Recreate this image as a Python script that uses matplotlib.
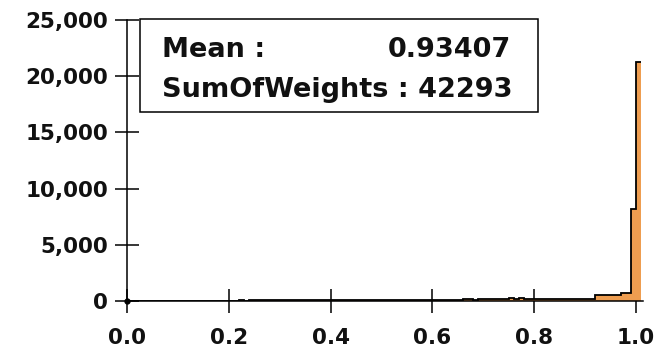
import matplotlib
matplotlib.use("Agg")
import matplotlib.pyplot as plt
from matplotlib.ticker import FuncFormatter
from matplotlib.patches import Rectangle
import numpy as np

# histogram: 101 bins of width 0.01 from 0.0 to 1.01
bin_edges = np.round(np.arange(0, 1.0101, 0.01), 2)
counts = (
    [0] * 21
    + [30, 60, 40]
    + [85, 90, 80, 95, 100, 90, 85, 95, 100, 90, 95, 100, 90, 85, 95,
       100, 105, 95, 90, 100, 95, 90, 100, 105, 95, 100, 90, 95, 100, 105,
       95, 100, 110, 100, 105, 95, 110]
    + [120, 115, 125, 130, 120, 135, 140, 130, 135, 150, 145, 190, 220, 180,
       230, 200, 240, 210, 160, 170, 165, 175, 180, 170, 185, 190, 180, 195,
       200, 190, 210]
    + [520, 530, 540, 525, 535]
    + [730, 750]
    + [8200, 21300]
)
mean_text = "0.93407"
sum_text = "42293"
xticks = [0.0, 0.2, 0.4, 0.6, 0.8, 1.0]
yticks = [0, 5000, 10000, 15000, 20000, 25000]

W, H = 667, 351
fig = plt.figure(figsize=(W / 100, H / 100), dpi=100)
ax = fig.add_axes([127 / W, 1 - 301 / H, (643 - 127) / W, (301 - 20) / H])

ax.stairs(counts, bin_edges, fill=True, color="#EE9D50", linewidth=0, zorder=2)
ax.stairs(counts, bin_edges, baseline=None, color="black", linewidth=1.3, zorder=3)
ax.plot([0], [0], "o", color="black", markersize=3.5, clip_on=False, zorder=7)

ax.set_xlim(0, 1.0137)
ax.set_ylim(0, 25000)
ax.set_xticks(xticks)
ax.set_yticks(yticks)
ax.xaxis.set_major_formatter(FuncFormatter(lambda v, p: f"{v:.1f}"))
ax.yaxis.set_major_formatter(FuncFormatter(lambda v, p: f"{v:,.0f}"))
ax.set_axisbelow(True)

for s in ["top", "right"]:
    ax.spines[s].set_visible(False)
for s in ["left", "bottom"]:
    ax.spines[s].set_linewidth(1.1)
    ax.spines[s].set_zorder(6)

font = dict(family="DejaVu Sans", weight="bold")
ax.tick_params(axis="both", direction="inout", length=17, width=1.1, colors="black")
ax.tick_params(axis="y", pad=5)
ax.tick_params(axis="x", pad=11)
for lab in ax.get_xticklabels() + ax.get_yticklabels():
    lab.set_fontfamily("DejaVu Sans")
    lab.set_fontweight("bold")
    lab.set_fontsize(15.5)
    lab.set_color("#111111")

# stats box
fig.patches.append(Rectangle((140 / W, 1 - 112 / H), (538 - 140) / W, (112 - 19) / H,
                             transform=fig.transFigure, facecolor="white",
                             edgecolor="black", linewidth=1.1, zorder=10))
fig.text(162 / W, 1 - 57 / H, "Mean :", ha="left", va="baseline", fontsize=19.5,
         color="#111111", zorder=11, **font)
fig.text(511 / W, 1 - 57 / H, mean_text, ha="right", va="baseline", fontsize=19.5,
         color="#111111", zorder=11, **font)
fig.text(162 / W, 1 - 97 / H, "SumOfWeights : " + sum_text, ha="left", va="baseline",
         fontsize=19.5, color="#111111", zorder=11, **font)

fig.savefig("out.png", dpi=100)
